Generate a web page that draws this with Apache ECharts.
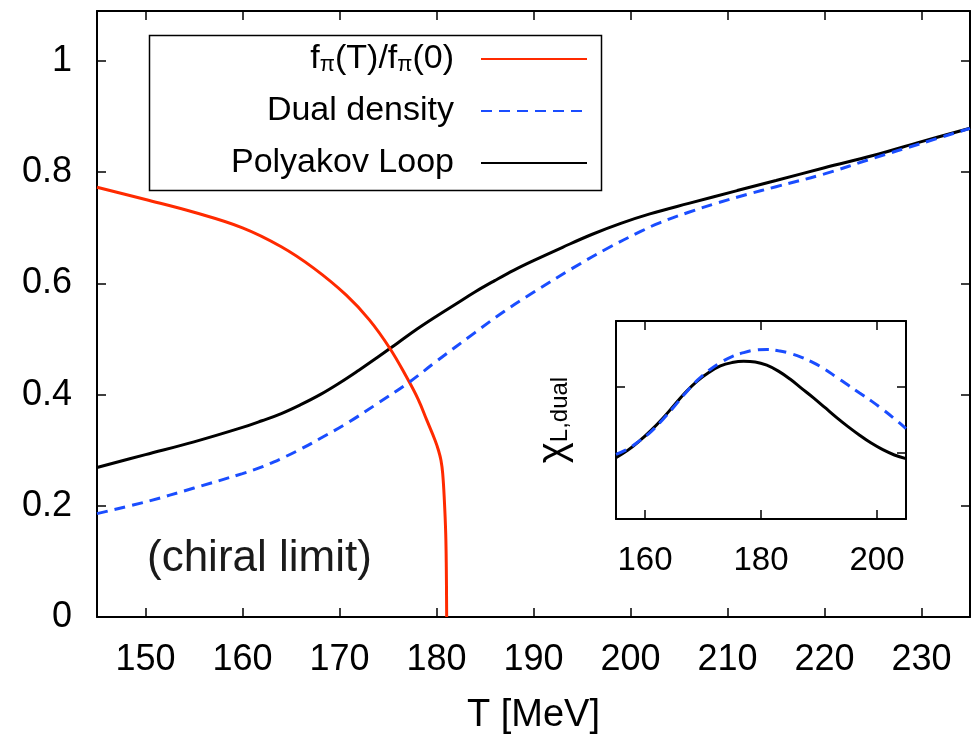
<!DOCTYPE html>
<html>
<head>
<meta charset="utf-8">
<title>f_pi / dual density / Polyakov loop</title>
<script src="https://cdn.jsdelivr.net/npm/echarts@6/dist/echarts.min.js"></script>
<style>
  html, body { margin: 0; padding: 0; background: #fff; }
  #chart { width: 971px; height: 738px; }
</style>
</head>
<body>
<div id="chart"></div>
<script>
// 刻度
const mainTicksT = [150, 160, 170, 180, 190, 200, 210, 220, 230]
const mainTicksY = [0, 0.2, 0.4, 0.6, 0.8, 1]
const insetTicksT = [160, 180, 200]
const insetTicksY = [1, 2]

// f_pi(T)/f_pi(0)
const fpiT = [145, 150, 155, 160, 164, 167.3, 170.7, 173.1, 175.2, 176.9, 178.1, 179, 179.85, 180.2, 180.46, 180.64, 180.81, 180.95, 181.01, 181.05]
const fpiVal = [0.773, 0.751, 0.728, 0.700, 0.666, 0.628, 0.579, 0.534, 0.483, 0.432, 0.392, 0.354, 0.318, 0.300, 0.282, 0.258, 0.210, 0.150, 0.090, 0.0]

// Dual density
const dualT = [145, 150, 155, 160, 162, 164, 166, 168, 171, 174, 177, 180, 184, 187, 190, 194, 197.5, 201, 203, 206, 209, 212, 215, 220, 225, 230, 235]
const dualVal = [0.186, 0.207, 0.232, 0.258, 0.270, 0.285, 0.302, 0.321, 0.351, 0.385, 0.420, 0.460, 0.512, 0.550, 0.584, 0.627, 0.662, 0.693, 0.709, 0.728, 0.745, 0.760, 0.774, 0.797, 0.825, 0.852, 0.879]

// Polyakov Loop
const loopT = [145, 150, 155, 160, 162, 164, 166, 168, 170, 172, 174, 176, 178, 180, 182, 184, 186, 188, 190, 193, 196, 199, 202, 206, 211, 215, 220, 225, 230, 235]
const loopVal = [0.269, 0.292, 0.315, 0.341, 0.353, 0.366, 0.382, 0.400, 0.421, 0.444, 0.468, 0.493, 0.518, 0.541, 0.563, 0.585, 0.605, 0.624, 0.641, 0.665, 0.688, 0.708, 0.725, 0.744, 0.767, 0.785, 0.808, 0.830, 0.855, 0.879]

// 内嵌图 chi_{L,dual}
const chiT = [155, 157, 159, 161, 163, 165, 167, 169, 171, 173, 175, 177, 179, 181, 183, 185, 187, 189, 191, 193, 195, 197, 199, 201, 203, 205]
const chiLoop = [0.93, 1.04, 1.18, 1.34, 1.52, 1.72, 1.92, 2.09, 2.22, 2.32, 2.37, 2.39, 2.38, 2.33, 2.24, 2.12, 1.98, 1.84, 1.69, 1.54, 1.40, 1.27, 1.15, 1.05, 0.97, 0.915]
const chiDual = [0.98, 1.06, 1.18, 1.32, 1.50, 1.70, 1.91, 2.10, 2.25, 2.37, 2.46, 2.52, 2.56, 2.57, 2.55, 2.51, 2.45, 2.37, 2.27, 2.15, 2.03, 1.91, 1.79, 1.66, 1.52, 1.37]

const FONT = '"Liberation Sans", Arial, Helvetica, sans-serif'
const RED = '#ff2a00'
const BLUE = '#1a4dff'

// 两个数组拼成 [x, y]
function zip(xs, ys) {
  return xs.map((x, i) => [x, ys[i]])
}

// 坐标轴 (四边都画, 刻度朝内)
function axis(gridIndex, position, min, max, ticks, label) {
  return {
    type: 'value',
    gridIndex: gridIndex,
    position: position,
    min: min,
    max: max,
    axisLine: { show: true, onZero: false, lineStyle: { color: '#000', width: 2 } },
    axisTick: { show: true, inside: true, length: 9, customValues: ticks, lineStyle: { color: '#000', width: 1.5 } },
    axisLabel: label
      ? Object.assign({ show: true, customValues: ticks, fontFamily: FONT, color: '#000' }, label)
      : { show: false },
    splitLine: { show: false },
  }
}

// 折线
function curve(name, xIndex, xs, ys, color, dashed, z) {
  return {
    name: name,
    type: 'line',
    xAxisIndex: xIndex,
    yAxisIndex: xIndex,
    data: zip(xs, ys),
    symbol: 'none',
    smooth: 0.4,
    lineStyle: { color: color, width: 3, type: dashed ? [11, 7] : 'solid' },
    itemStyle: { color: color },
    z: z,
  }
}

const myChart = echarts.init(document.getElementById('chart'))

const xMainBottom = axis(0, 'bottom', 145, 235, mainTicksT, { fontSize: 36, margin: 25 })
xMainBottom.name = 'T [MeV]'
xMainBottom.nameLocation = 'middle'
xMainBottom.nameGap = 80
xMainBottom.nameTextStyle = { fontFamily: FONT, fontSize: 38, color: '#000' }

const yInsetLeft = axis(1, 'left', 0, 3, insetTicksY, null)
yInsetLeft.name = '{c|χ}{s|L,dual}'
yInsetLeft.nameLocation = 'middle'
yInsetLeft.nameRotate = 90
yInsetLeft.nameGap = 44
yInsetLeft.nameTextStyle = {
  color: '#000',
  rich: {
    c: { fontFamily: FONT, fontSize: 40, lineHeight: 36, color: '#000' },
    s: { fontFamily: FONT, fontSize: 24, lineHeight: 16, verticalAlign: 'bottom', color: '#000' },
  },
}

const option = {
  animation: false,
  backgroundColor: '#fff',
  grid: [
    { left: 97, right: 1, top: 11, bottom: 121, containLabel: false, outerBoundsMode: 'none' },
    { left: 616, top: 321, width: 290, height: 198, containLabel: false, outerBoundsMode: 'none', show: true, backgroundColor: '#fff', borderWidth: 0 },
  ],
  xAxis: [
    xMainBottom,
    axis(0, 'top', 145, 235, mainTicksT, null),
    axis(1, 'bottom', 155, 205, insetTicksT, { fontSize: 33, margin: 25 }),
    axis(1, 'top', 155, 205, insetTicksT, null),
  ],
  yAxis: [
    axis(0, 'left', 0, 1.09, mainTicksY, { fontSize: 36, margin: 25 }),
    axis(0, 'right', 0, 1.09, mainTicksY, null),
    yInsetLeft,
    axis(1, 'right', 0, 3, insetTicksY, null),
  ],
  legend: {
    data: ['fpi', 'Dual density', 'Polyakov Loop'],
    orient: 'vertical',
    align: 'right',
    right: 383,
    top: 42,
    padding: 0,
    itemWidth: 106,
    itemHeight: 14,
    itemGap: 18,
    selectedMode: false,
    // 图例只画线, 不画圆点
    itemStyle: { opacity: 0 },
    formatter: function (name) {
      if (name === 'fpi') return '{n|f}{s|π}{n|(T)/f}{s|π}{n|(0)}{g| }'
      return '{n|' + name + '}{g| }'
    },
    textStyle: {
      color: '#000',
      rich: {
        n: { fontFamily: FONT, fontSize: 34, lineHeight: 34, color: '#000' },
        s: { fontFamily: FONT, fontSize: 22, lineHeight: 4, verticalAlign: 'bottom', color: '#000' },
        g: { width: 22 },
      },
    },
  },
  graphic: [
    // 图例外框
    {
      type: 'rect',
      left: 147,
      top: 33,
      shape: { width: 452, height: 155 },
      style: { fill: 'none', stroke: '#000', lineWidth: 1.5 },
      z: 1,
    },
    {
      type: 'text',
      left: 147,
      top: 537,
      style: { text: '(chiral limit)', font: '44px ' + FONT, fill: '#1a1a1a' },
    },
  ],
  series: [
    curve('fpi', 0, fpiT, fpiVal, RED, false, 3),
    curve('Dual density', 0, dualT, dualVal, BLUE, true, 4),
    curve('Polyakov Loop', 0, loopT, loopVal, '#000', false, 2),
    // 内嵌图
    curve('inset dual', 2, chiT, chiDual, BLUE, true, 4),
    curve('inset loop', 2, chiT, chiLoop, '#000', false, 3),
  ],
}

myChart.setOption(option)
</script>
</body>
</html>
